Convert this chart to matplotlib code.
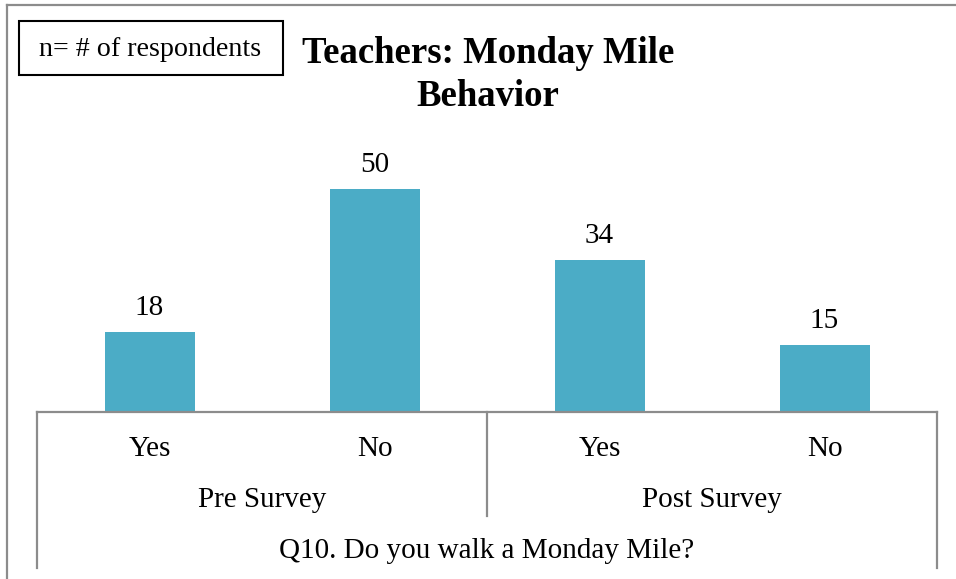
import matplotlib
matplotlib.use("Agg")
import matplotlib.pyplot as plt
from matplotlib.lines import Line2D
from matplotlib.patches import Rectangle

plt.rcParams['font.family'] = ['Liberation Serif', 'DejaVu Serif']

answers = ["Yes", "No", "Yes", "No"]
surveys = ["Pre Survey", "Post Survey"]
counts = [18, 50, 34, 15]
title = "Teachers: Monday Mile\nBehavior"
question = "Q10. Do you walk a Monday Mile?"
note = "n= # of respondents"

bar_color = "#4bacc6"
line_color = "#8c8c8c"
W, H = 956, 579
fs = 21

fig = plt.figure(figsize=(W / 100, H / 100), dpi=100)


def fx(px):
    return px / W


def fy(py):
    return 1 - py / H


# axes: x 37..937, baseline at y=412, top at y=140
ax = fig.add_axes([fx(37), fy(412), fx(900), (412 - 140) / H])
x = list(range(len(counts)))
bars = ax.bar(x, counts, width=0.4, color=bar_color)
ax.set_xlim(-0.5, len(counts) - 0.5)
ax.set_ylim(0, 272 / 4.46)

for xi, v in zip(x, counts):
    ax.annotate(str(v), (xi, v), xytext=(0, 24), textcoords="offset pixels",
                ha="center", va="center", fontsize=fs)

for s in ["top", "left", "right"]:
    ax.spines[s].set_visible(False)
ax.spines["bottom"].set_color(line_color)
ax.spines["bottom"].set_linewidth(1.6)
ax.set_xticks([])
ax.set_yticks([])

tr = ax.get_xaxis_transform()
ah = 272.0
for xi, lab in zip(x, answers):
    ax.text(xi, -37 / ah, lab, transform=tr, ha="center", va="center", fontsize=fs)
for i, lab in enumerate(surveys):
    ax.text(2 * i + 0.5, -88 / ah, lab, transform=tr, ha="center", va="center", fontsize=fs)
ax.text(1.5, -139 / ah, question, transform=tr, ha="center", va="center", fontsize=fs)

# category dividers
for xv, depth in [(-0.5, 156), (1.5, 104), (3.5, 156)]:
    ax.add_line(Line2D([xv, xv], [0, -depth / ah], transform=tr, color=line_color,
                       lw=1.6, clip_on=False))

# outer chart border (top and left visible)
fig.add_artist(Line2D([fx(7), fx(7)], [fy(5), 0], transform=fig.transFigure,
                      color=line_color, lw=1.6))
fig.add_artist(Line2D([fx(7), 1], [fy(5), fy(5)], transform=fig.transFigure,
                      color=line_color, lw=1.6))

# note box
fig.add_artist(Rectangle((fx(19), fy(75)), fx(264), (75 - 21) / H, transform=fig.transFigure,
                         fill=False, edgecolor="black", lw=1.5))
fig.text(fx(150), fy(50), note, ha="center", va="center", fontsize=20.2)

fig.text(fx(488), fy(75), title, ha="center", va="center", fontsize=26.5,
         fontweight="bold", linespacing=1.3, multialignment="center")

fig.savefig("out.png", dpi=100, facecolor="white")
